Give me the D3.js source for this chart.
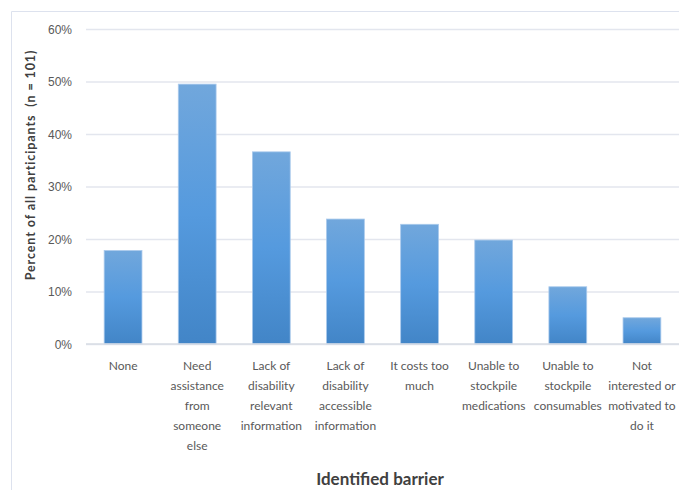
<!DOCTYPE html>
<html><head><meta charset="utf-8">
<script src="https://cdn.jsdelivr.net/npm/d3@7"></script>
<style>
html,body{margin:0;padding:0;background:#fff;}
svg{display:block;font-family:Lato,"Open Sans",sans-serif;}
</style></head>
<body>
<svg id="chart" width="679" height="490"></svg>
<script>
const categories = ["None","Need assistance from someone else","Lack of disability relevant information","Lack of disability accessible information","It costs too much","Unable to stockpile medications","Unable to stockpile consumables","Not interested or motivated to do it"];
const categoryLines = [
  ["None"],
  ["Need","assistance","from","someone","else"],
  ["Lack of","disability","relevant","information"],
  ["Lack of","disability","accessible","information"],
  ["It costs too","much"],
  ["Unable to","stockpile","medications"],
  ["Unable to","stockpile","consumables"],
  ["Not","interested or","motivated to","do it"]
];
const values = [0.178, 0.495, 0.366, 0.238, 0.228, 0.198, 0.109, 0.050];
const yTicks = [0, 0.1, 0.2, 0.3, 0.4, 0.5, 0.6];
const yTitle = "Percent of all participants  (n = 101)";
const xTitle = "Identified barrier";

const svg = d3.select("#chart");
const m = {left: 86, right: 679, top: 29, bottom: 344};

// frame
svg.append("path").attr("d", "M11.5,490 V11.5 H679").attr("fill","none").attr("stroke","#dde2ee").attr("stroke-width",1);

const x = d3.scaleBand().domain(categories).range([m.left, m.right]).paddingInner(0.49).paddingOuter(0.245);
const y = d3.scaleLinear().domain([0, 0.6]).range([m.bottom, m.top]);

const defs = svg.append("defs");
const grad = defs.append("linearGradient").attr("id","barGrad").attr("x1",0).attr("y1",0).attr("x2",0).attr("y2",1);
grad.append("stop").attr("offset","0%").attr("stop-color","#71a7dc");
grad.append("stop").attr("offset","50%").attr("stop-color","#559ade");
grad.append("stop").attr("offset","100%").attr("stop-color","#4285c7");

// gridlines
const yAxis = d3.axisLeft(y).tickValues(yTicks).tickFormat(d3.format(".0%")).tickSize(-(m.right - m.left)).tickPadding(14);
const gy = svg.append("g").attr("transform", `translate(${m.left},0)`).call(yAxis);
gy.select(".domain").remove();
gy.selectAll(".tick line").attr("stroke","#e3e6ee").attr("stroke-width",1.5);
gy.selectAll(".tick text").attr("fill","#595959").attr("font-size",12).attr("dy","0.35em");

// bars
svg.append("g").selectAll("rect").data(values).join("rect")
  .attr("x", (d,i) => x(categories[i]))
  .attr("y", d => y(d))
  .attr("width", x.bandwidth())
  .attr("height", d => y(0) - y(d))
  .attr("fill","url(#barGrad)")
  .attr("stroke","#a9c9ec").attr("stroke-width",0.8);

// baseline
svg.append("line").attr("x1",m.left).attr("x2",m.right).attr("y1",y(0)).attr("y2",y(0)).attr("stroke","#d9dce4").attr("stroke-width",1.5);

// x labels
const xl = svg.append("g").selectAll("text").data(categoryLines).join("text")
  .attr("x",(d,i) => x(categories[i]) + x.bandwidth()/2)
  .attr("y", 370)
  .attr("text-anchor","middle").attr("fill","#595959").attr("font-size",12);
xl.selectAll("tspan").data(d => d).join("tspan")
  .attr("x", function(){ return this.parentNode.getAttribute("x"); })
  .attr("dy",(d,i) => i === 0 ? 0 : 20)
  .text(d => d);

// axis titles
svg.append("text").attr("transform","translate(35,165) rotate(-90)")
  .attr("text-anchor","middle").attr("font-weight","bold").attr("font-size",12.5).attr("letter-spacing",0.9).attr("fill","#404040")
  .attr("xml:space","preserve").style("white-space","pre").text(yTitle);
svg.append("text").attr("x",380).attr("y",485).attr("text-anchor","middle")
  .attr("font-weight","bold").attr("font-size",17).attr("fill","#404040").text(xTitle);
</script>
</body></html>
